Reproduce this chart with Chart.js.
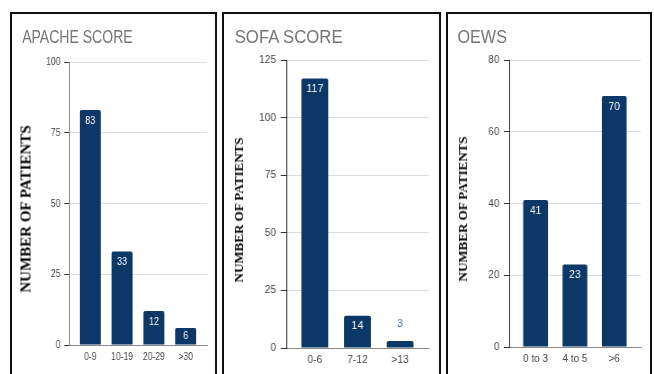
<!DOCTYPE html>
<html>
<head>
<meta charset="utf-8">
<script src="https://cdn.jsdelivr.net/npm/chart.js@4.4.0/dist/chart.umd.min.js"></script>
<style>
  html, body { margin: 0; padding: 0; background: #fff; width: 654px; height: 374px; overflow: hidden; }
  .panel { position: absolute; top: 12px; height: 400px; border: 2px solid #111; border-bottom: none; box-sizing: border-box; overflow: hidden; }
  .inner { position: absolute; left: 0; top: 0; transform-origin: 0 0; }
  .inner canvas { position: absolute; left: 0; top: 0; }
  .title { position: absolute; top: 14px; font: 18px "Liberation Sans", Arial, sans-serif; line-height: 18px; color: #757575; white-space: nowrap; }
  .ytitle { position: absolute; font-family: "Liberation Serif", "Times New Roman", serif; font-weight: bold; color: #000; white-space: nowrap; transform: translate(-50%, -50%) rotate(-90deg); }
</style>
</head>
<body>
<script>
// chart data
const yTitle = "NUMBER OF PATIENTS";

const apacheTitle = "APACHE SCORE";
const apacheLabels = ["0-9", "10-19", "20-29", ">30"];
const apacheValues = [83, 33, 12, 6];
const apacheYMax = 100, apacheYStep = 25;

const sofaTitle = "SOFA SCORE";
const sofaLabels = ["0-6", "7-12", ">13"];
const sofaValues = [117, 14, 3];
const sofaYMax = 125, sofaYStep = 25;

const oewsTitle = "OEWS";
const oewsLabels = ["0 to 3", "4 to 5", ">6"];
const oewsValues = [41, 23, 70];
const oewsYMax = 80, oewsYStep = 20;

const FONT = '"Liberation Sans", Arial, sans-serif';
const BAR_COLOR = "#0b3866";
const TICK_COLOR = "#444";
const CH = 360;

// draws the number on / above each bar
const valueLabels = {
  id: "valueLabels",
  afterDatasetsDraw(chart) {
    const ctx = chart.ctx;
    const meta = chart.getDatasetMeta(0);
    const pts = chart.data.datasets[0].data;
    ctx.save();
    ctx.font = "11.5px " + FONT;
    ctx.textAlign = "center";
    ctx.textBaseline = "middle";
    meta.data.forEach((bar, i) => {
      const h = bar.base - bar.y;
      let y, color = "#fff";
      if (h >= 20) y = bar.y + 10.5;
      else if (h >= 12) y = (bar.y + bar.base) / 2;
      else { y = bar.y - 17; color = "#3f6fa6"; }
      ctx.fillStyle = color;
      ctx.fillText(String(pts[i].y), bar.x, y);
    });
    ctx.restore();
  }
};

function makePanel(p) {
  const panel = document.createElement("div");
  panel.className = "panel";
  panel.style.left = p.pageLeft + "px";
  panel.style.width = p.pageWidth + "px";
  document.body.appendChild(panel);

  // the source image is squeezed sideways, so the whole chart is too
  const wrap = document.createElement("div");
  wrap.className = "inner";
  wrap.style.width = p.cw + "px";
  wrap.style.height = CH + "px";
  wrap.style.transform = "scaleX(" + p.sx + ")";
  panel.appendChild(wrap);

  const canvas = document.createElement("canvas");
  canvas.width = p.cw;
  canvas.height = CH;
  wrap.appendChild(canvas);

  const t = document.createElement("div");
  t.className = "title";
  t.style.left = p.titleLeft + "px";
  t.textContent = p.title;
  wrap.appendChild(t);

  const yt = document.createElement("div");
  yt.className = "ytitle";
  yt.style.left = p.yt[0] + "px";
  yt.style.top = p.yt[1] + "px";
  yt.style.fontSize = p.yt[2] + "px";
  yt.textContent = yTitle;
  document.body.appendChild(yt);

  new Chart(canvas, {
    type: "bar",
    data: {
      datasets: [{
        data: p.values.map((v, i) => ({ x: i, y: v })),
        backgroundColor: BAR_COLOR,
        borderRadius: 2,
        barPercentage: p.bar,
        categoryPercentage: 1
      }]
    },
    options: {
      responsive: false,
      animation: false,
      devicePixelRatio: 1,
      layout: { padding: { left: 0, top: p.top, right: p.cw - p.right, bottom: 0 } },
      plugins: { legend: { display: false }, tooltip: { enabled: false } },
      scales: {
        x: {
          type: "linear",
          offset: false,
          min: -0.67,
          max: p.labels.length - 1 + 0.67,
          grid: { display: false, drawTicks: false, offset: false },
          border: { display: true, color: "#888", width: 1 },
          ticks: {
            stepSize: 1,
            includeBounds: false,
            autoSkip: false,
            maxRotation: 0,
            padding: 5,
            color: TICK_COLOR,
            font: { family: FONT, size: 11 },
            callback: (v) => p.labels[v] ?? ""
          },
          afterFit: (s) => { s.height = CH - p.bottom; }
        },
        y: {
          min: 0,
          max: p.yMax,
          ticks: { stepSize: p.yStep, padding: 5, color: TICK_COLOR, font: { family: FONT, size: 11 } },
          grid: { color: "#dcdcdc", tickColor: "#333", tickLength: 6 },
          border: { display: true, color: p.axis, width: 1 },
          afterFit: (s) => { s.width = p.left; }
        }
      }
    },
    plugins: [valueLabels]
  });
}

makePanel({
  title: apacheTitle, labels: apacheLabels, values: apacheValues, yMax: apacheYMax, yStep: apacheYStep,
  pageLeft: 10, pageWidth: 207, sx: 0.78, cw: 260,
  left: 73, right: 250, top: 48, bottom: 331, titleLeft: 13,
  axis: "#777", bar: 0.66, yt: [26, 208.5, 15]
});
makePanel({
  title: sofaTitle, labels: sofaLabels, values: sofaValues, yMax: sofaYMax, yStep: sofaYStep,
  pageLeft: 222, pageWidth: 219, sx: 0.93, cw: 231,
  left: 67, right: 220, top: 46, bottom: 334, titleLeft: 11.5,
  axis: "#222", bar: 0.63, yt: [239, 209.5, 13]
});
makePanel({
  title: oewsTitle, labels: oewsLabels, values: oewsValues, yMax: oewsYMax, yStep: oewsYStep,
  pageLeft: 446, pageWidth: 206, sx: 0.90, cw: 224,
  left: 68, right: 214, top: 46, bottom: 333, titleLeft: 10.5,
  axis: "#222", bar: 0.63, yt: [462.5, 209, 13]
});
</script>
</body>
</html>
